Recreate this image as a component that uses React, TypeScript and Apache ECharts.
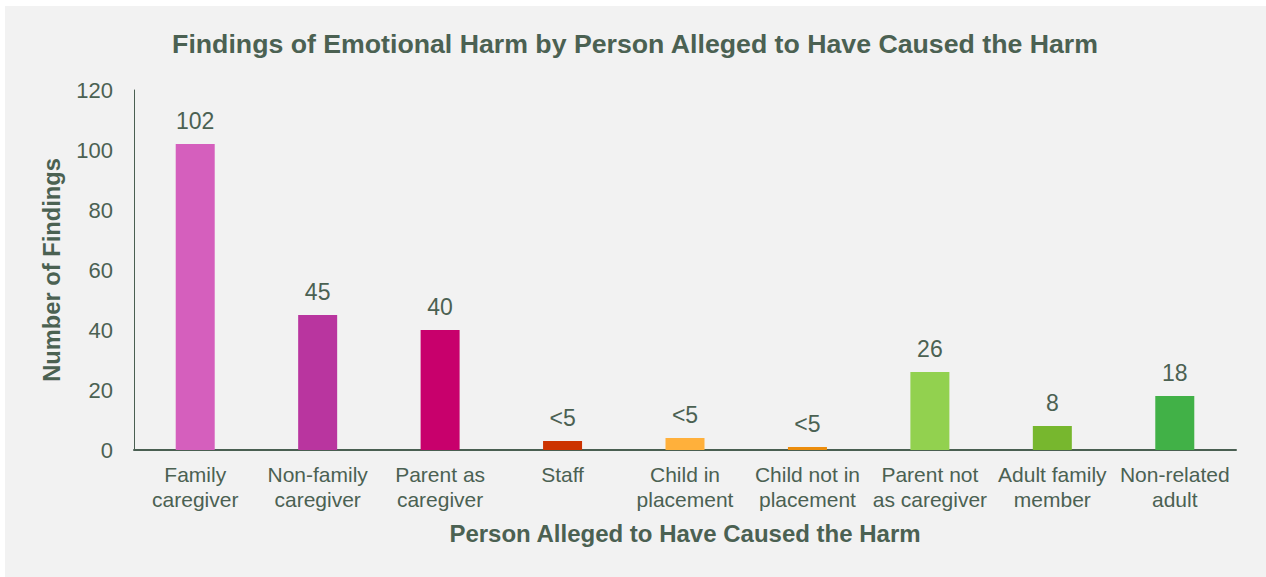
import React, { useEffect, useRef } from "react";
import * as echarts from "echarts";

const categories = [
  "Family\ncaregiver",
  "Non-family\ncaregiver",
  "Parent as\ncaregiver",
  "Staff",
  "Child in\nplacement",
  "Child not in\nplacement",
  "Parent not\nas caregiver",
  "Adult family\nmember",
  "Non-related\nadult",
];
const values = [102, 45, 40, 3, 4, 1, 26, 8, 18];
const labels = ["102", "45", "40", "<5", "<5", "<5", "26", "8", "18"];
const colors = ["#d55fbd", "#b9359f", "#c8006c", "#cc3300", "#ffb03b", "#ec8d0c", "#92d14f", "#77b72e", "#41b147"];
const yTicks = { min: 0, max: 120, interval: 20 };

const textColor = "#4b6152";
const font = "'Liberation Sans', Arial, sans-serif";

export default function App() {
  const ref = useRef<HTMLDivElement>(null);
  useEffect(() => {
    if (!ref.current) return;
    const chart = echarts.init(ref.current, undefined, { renderer: "svg" });
    chart.setOption({
      animation: false,
      backgroundColor: "transparent",
      title: {
        text: "Findings of Emotional Harm by Person Alleged to Have Caused the Harm",
        left: 630,
        top: 25,
        textAlign: "center",
        textStyle: { color: textColor, fontSize: 26.7, fontWeight: "bold", fontFamily: font },
      },
      grid: { left: 134, right: 30, top: 90, bottom: 127, containLabel: false },
      xAxis: {
        type: "category",
        data: categories,
        name: "Person Alleged to Have Caused the Harm",
        nameLocation: "middle",
        nameGap: 71,
        nameTextStyle: { color: textColor, fontSize: 24, fontWeight: "bold", fontFamily: font },
        axisLine: { lineStyle: { color: "#4a5f52", width: 2 } },
        axisTick: { show: false },
        axisLabel: { color: textColor, fontSize: 21, fontFamily: font, lineHeight: 25, margin: 12, interval: 0 },
      },
      yAxis: {
        type: "value",
        min: yTicks.min,
        max: yTicks.max,
        interval: yTicks.interval,
        name: "Number of Findings",
        nameLocation: "middle",
        nameGap: 70,
        nameTextStyle: { color: textColor, fontSize: 23.7, fontWeight: "bold", fontFamily: font },
        axisLine: { show: true, lineStyle: { color: "#4a5f52", width: 1 } },
        axisTick: { show: false },
        splitLine: { show: false },
        axisLabel: { color: textColor, fontSize: 22, fontFamily: font, margin: 21 },
      },
      series: [
        {
          type: "bar",
          barWidth: 39,
          data: values.map((v, i) => ({ value: v, itemStyle: { color: colors[i] } })),
          label: {
            show: true,
            position: "top",
            distance: 12,
            color: textColor,
            fontSize: 23,
            fontFamily: font,
            formatter: (p: any) => labels[p.dataIndex],
          },
        },
      ],
    });
    return () => chart.dispose();
  }, []);
  return (
    <div style={{ position: "absolute", left: 0, top: 0, width: 1266, height: 577, background: "#ffffff" }}>
      <div style={{ position: "absolute", left: 5, top: 6, width: 1261, height: 571, background: "#f2f2f2" }} />
      <div ref={ref} style={{ position: "absolute", left: 0, top: 0, width: 1266, height: 577 }} />
    </div>
  );
}
